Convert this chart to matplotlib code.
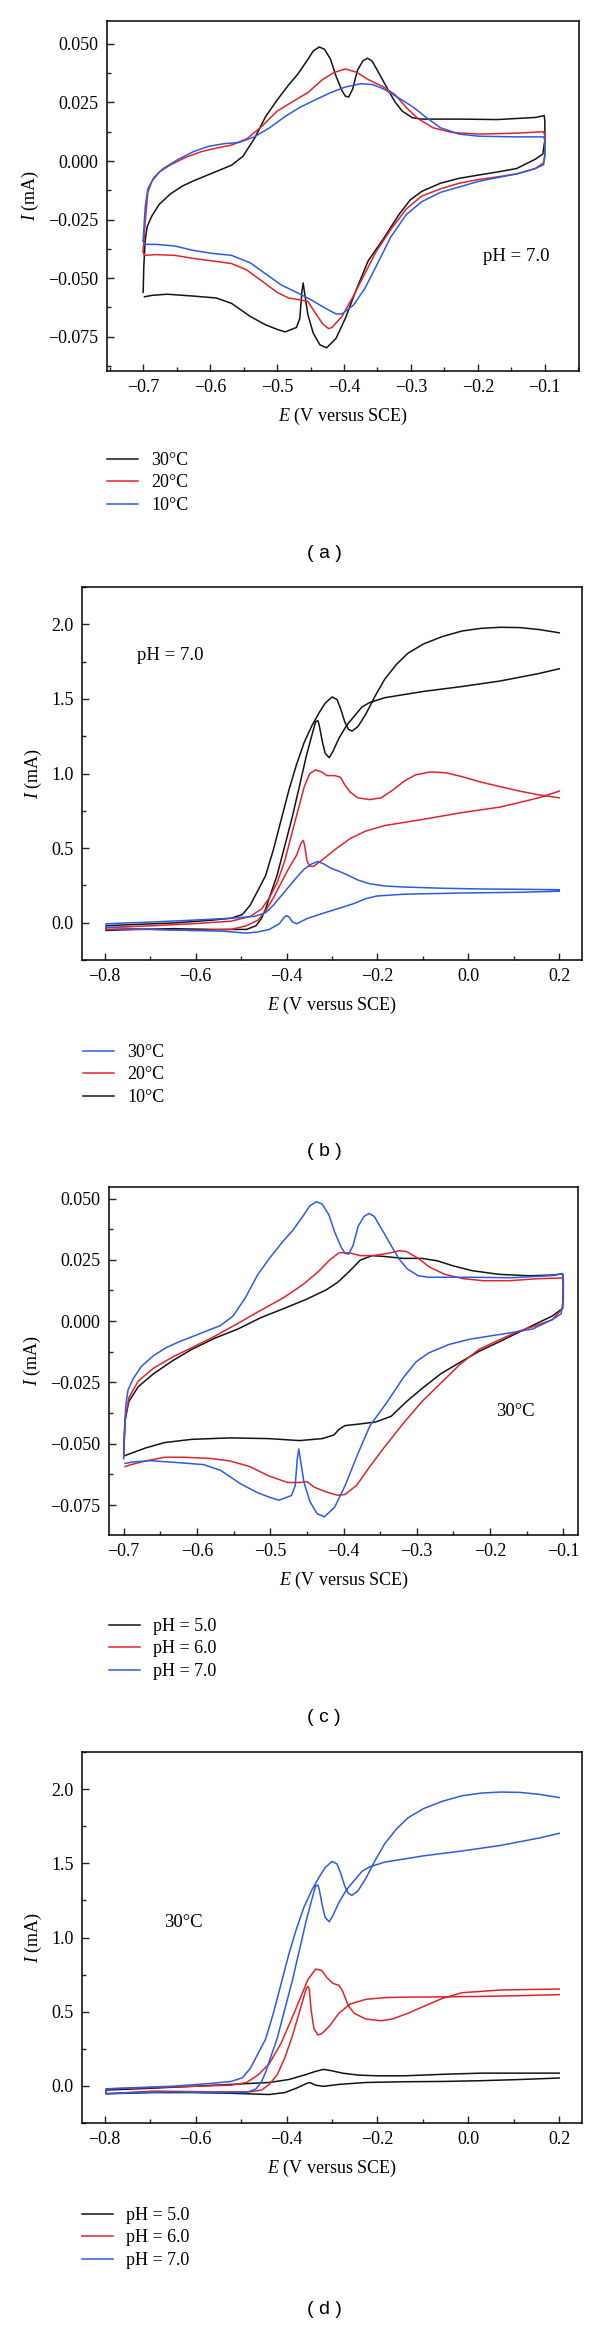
import matplotlib.pyplot as plt
from matplotlib.ticker import MultipleLocator, FuncFormatter

plt.rcParams['font.family'] = 'Liberation Serif'
plt.rcParams['mathtext.fontset'] = 'custom'
plt.rcParams['mathtext.rm'] = 'Liberation Serif'
plt.rcParams['mathtext.it'] = 'Liberation Serif:italic'

BLACK = '#141414'
RED = '#e0242c'
BLUE = '#2d5be3'

# ---- narrow-window CVs (-0.7 .. -0.1 V), pH 7.0, 30 C (also pH 7.0 in panel c)
cv_ph7_30_E = [-0.700, -0.699, -0.697, -0.694, -0.687, -0.676, -0.659, -0.642, -0.625, -0.602,
               -0.585, -0.568, -0.551, -0.534, -0.517, -0.500, -0.483, -0.469, -0.454, -0.446,
               -0.437, -0.429, -0.420, -0.412, -0.403, -0.398, -0.393, -0.387, -0.380, -0.372,
               -0.365, -0.358, -0.347, -0.335, -0.324, -0.313, -0.298, -0.284, -0.228, -0.171,
               -0.114, -0.101, -0.100, -0.100,
               -0.103, -0.114, -0.142, -0.171, -0.199, -0.228, -0.256, -0.284, -0.301, -0.318,
               -0.341, -0.364, -0.381, -0.398, -0.412, -0.426, -0.436, -0.446, -0.454, -0.459,
               -0.461, -0.463, -0.466, -0.471, -0.488, -0.500, -0.517, -0.540, -0.568, -0.591,
               -0.625, -0.664, -0.687, -0.698]
cv_ph7_30_I = [-0.0561, -0.0450, -0.0340, -0.0280, -0.0235, -0.0185, -0.0140, -0.0108, -0.0085, -0.0058,
               -0.0038, -0.0018, 0.0020, 0.0095, 0.0190, 0.0260, 0.0324, 0.0371, 0.0434, 0.0470,
               0.0487, 0.0477, 0.0434, 0.0363, 0.0300, 0.0277, 0.0273, 0.0308, 0.0387, 0.0427,
               0.0439, 0.0427, 0.0371, 0.0308, 0.0253, 0.0213, 0.0185, 0.0179, 0.0179, 0.0177,
               0.0186, 0.0194, 0.0170, 0.0090,
               0.0030, 0.0008, -0.0032, -0.0047, -0.0060, -0.0074, -0.0095, -0.0130, -0.0166, -0.0229,
               -0.0332, -0.0427, -0.0545, -0.0672, -0.0758, -0.0798, -0.0785, -0.0735, -0.0656, -0.0561,
               -0.0521, -0.0561, -0.0672, -0.0711, -0.0730, -0.0719, -0.0700, -0.0664, -0.0608, -0.0585,
               -0.0577, -0.0569, -0.0574, -0.0580]

# pH 7.0, 20 C
cv_ph7_20_E = [-0.700, -0.697, -0.693, -0.687, -0.676, -0.659, -0.636, -0.613, -0.591, -0.568,
               -0.545, -0.522, -0.500, -0.477, -0.454, -0.432, -0.415, -0.398, -0.381, -0.364,
               -0.341, -0.324, -0.307, -0.290, -0.267, -0.239, -0.199, -0.142, -0.102, -0.100,
               -0.100,
               -0.102, -0.114, -0.142, -0.171, -0.199, -0.228, -0.256, -0.284, -0.307, -0.330,
               -0.352, -0.369, -0.386, -0.403, -0.418, -0.423, -0.432, -0.443, -0.454, -0.466,
               -0.483, -0.500, -0.522, -0.545, -0.568, -0.596, -0.625, -0.653, -0.681, -0.698,
               -0.700]
cv_ph7_20_I = [-0.0387, -0.0261, -0.0134, -0.0087, -0.0047, -0.0016, 0.0016, 0.0040, 0.0055, 0.0068,
               0.0095, 0.0150, 0.0213, 0.0253, 0.0292, 0.0348, 0.0378, 0.0393, 0.0379, 0.0348,
               0.0316, 0.0284, 0.0229, 0.0182, 0.0142, 0.0122, 0.0115, 0.0119, 0.0125, 0.0110,
               0.0030,
               -0.0008, -0.0032, -0.0055, -0.0068, -0.0079, -0.0095, -0.0119, -0.0150, -0.0205, -0.0292,
               -0.0387, -0.0482, -0.0577, -0.0664, -0.0711, -0.0716, -0.0695, -0.0648, -0.0600, -0.0593,
               -0.0585, -0.0561, -0.0514, -0.0466, -0.0438, -0.0427, -0.0416, -0.0403, -0.0400, -0.0403,
               -0.0387]

# pH 7.0, 10 C
cv_ph7_10_E = [-0.700, -0.697, -0.693, -0.684, -0.670, -0.647, -0.625, -0.602, -0.579, -0.557,
               -0.534, -0.511, -0.488, -0.466, -0.443, -0.420, -0.398, -0.375, -0.358, -0.341,
               -0.318, -0.296, -0.279, -0.256, -0.228, -0.199, -0.142, -0.102, -0.100, -0.100,
               -0.102, -0.114, -0.142, -0.171, -0.199, -0.228, -0.256, -0.284, -0.307, -0.330,
               -0.352, -0.369, -0.386, -0.403, -0.412, -0.426, -0.449, -0.471, -0.494, -0.517,
               -0.540, -0.568, -0.596, -0.625, -0.653, -0.681, -0.698, -0.700]
cv_ph7_10_I = [-0.0340, -0.0198, -0.0119, -0.0071, -0.0032, 0.0008, 0.0040, 0.0063, 0.0074, 0.0079,
               0.0103, 0.0142, 0.0190, 0.0229, 0.0261, 0.0292, 0.0316, 0.0330, 0.0327, 0.0308,
               0.0269, 0.0229, 0.0190, 0.0142, 0.0115, 0.0106, 0.0103, 0.0103, 0.0090, 0.0020,
               -0.0016, -0.0032, -0.0055, -0.0071, -0.0087, -0.0111, -0.0134, -0.0174, -0.0229, -0.0324,
               -0.0450, -0.0545, -0.0616, -0.0653, -0.0653, -0.0632, -0.0593, -0.0561, -0.0529, -0.0482,
               -0.0435, -0.0403, -0.0395, -0.0382, -0.0363, -0.0356, -0.0356, -0.0340]

# 30 C, pH 5.0
cv_ph5_30_E = [-0.700, -0.698, -0.693, -0.680, -0.659, -0.633, -0.607, -0.576, -0.544, -0.513,
               -0.481, -0.450, -0.424, -0.408, -0.392, -0.377, -0.361, -0.345, -0.319, -0.293,
               -0.272, -0.251, -0.225, -0.188, -0.147, -0.115, -0.101, -0.100, -0.101,
               -0.115, -0.136, -0.162, -0.188, -0.215, -0.241, -0.267, -0.293, -0.314, -0.335,
               -0.356, -0.377, -0.398, -0.406, -0.413, -0.429, -0.460, -0.502, -0.555, -0.607,
               -0.644, -0.670, -0.691, -0.698]
cv_ph5_30_I = [-0.0540, -0.0404, -0.0328, -0.0267, -0.0214, -0.0161, -0.0115, -0.0070, -0.0032, 0.0014,
               0.0052, 0.0090, 0.0127, 0.0158, 0.0203, 0.0249, 0.0267, 0.0264, 0.0256, 0.0256,
               0.0246, 0.0226, 0.0206, 0.0191, 0.0185, 0.0188, 0.0193, 0.0150, 0.0052,
               0.0021, -0.0009, -0.0047, -0.0085, -0.0123, -0.0168, -0.0214, -0.0275, -0.0328, -0.0388,
               -0.0411, -0.0419, -0.0426, -0.0441, -0.0464, -0.0479, -0.0487, -0.0479, -0.0476, -0.0482,
               -0.0495, -0.0517, -0.0540, -0.0548]

# 30 C, pH 6.0
cv_ph6_30_E = [-0.700, -0.698, -0.693, -0.680, -0.659, -0.633, -0.607, -0.576, -0.544, -0.513,
               -0.481, -0.455, -0.434, -0.419, -0.406, -0.392, -0.377, -0.361, -0.340, -0.324,
               -0.314, -0.298, -0.283, -0.262, -0.236, -0.209, -0.173, -0.136, -0.101, -0.100,
               -0.101,
               -0.115, -0.136, -0.162, -0.188, -0.215, -0.241, -0.267, -0.293, -0.319, -0.345,
               -0.366, -0.382, -0.398, -0.408, -0.424, -0.440, -0.450, -0.460, -0.476, -0.502,
               -0.528, -0.555, -0.581, -0.617, -0.644, -0.670, -0.691, -0.698]
cv_ph6_30_I = [-0.0555, -0.0404, -0.0313, -0.0244, -0.0191, -0.0146, -0.0108, -0.0062, -0.0009, 0.0044,
               0.0097, 0.0150, 0.0203, 0.0249, 0.0279, 0.0279, 0.0267, 0.0267, 0.0276, 0.0287,
               0.0284, 0.0256, 0.0221, 0.0191, 0.0173, 0.0165, 0.0165, 0.0173, 0.0176, 0.0140,
               0.0052,
               0.0006, -0.0017, -0.0042, -0.0077, -0.0115, -0.0176, -0.0252, -0.0328, -0.0419, -0.0517,
               -0.0601, -0.0669, -0.0707, -0.0710, -0.0696, -0.0677, -0.0654, -0.0658, -0.0658, -0.0631,
               -0.0593, -0.0570, -0.0560, -0.0555, -0.0555, -0.0570, -0.0586, -0.0593]

# ---- wide-window scans (-0.8 .. 0.2 V)
# largest response: 10 C curve of panel b, pH 7.0 curve of panel d
wide_big_E = [0.200, 0.155, 0.070, -0.014, -0.099, -0.184, -0.217, -0.234, -0.251, -0.268,
              -0.285, -0.298, -0.306, -0.315, -0.321, -0.328, -0.331, -0.336, -0.344, -0.357,
              -0.370, -0.387, -0.404, -0.421, -0.438, -0.446, -0.455, -0.467, -0.488, -0.565,
              -0.649, -0.734, -0.797,
              -0.797, -0.734, -0.649, -0.565, -0.522, -0.497, -0.480, -0.463, -0.446, -0.429,
              -0.412, -0.395, -0.378, -0.361, -0.344, -0.328, -0.315, -0.300, -0.289, -0.281,
              -0.272, -0.264, -0.256, -0.243, -0.226, -0.205, -0.184, -0.158, -0.133, -0.099,
              -0.057, -0.014, 0.028, 0.070, 0.113, 0.155, 0.200]
wide_big_I = [1.702, 1.670, 1.620, 1.583, 1.550, 1.508, 1.476, 1.446, 1.384, 1.322,
              1.235, 1.148, 1.106, 1.135, 1.210, 1.322, 1.354, 1.347, 1.260, 1.111,
              0.937, 0.713, 0.514, 0.316, 0.166, 0.092, 0.030, -0.020, -0.045, -0.045,
              -0.040, -0.045, -0.052,
              -0.020, -0.012, -0.002, 0.017, 0.030, 0.055, 0.117, 0.216, 0.316, 0.489,
              0.688, 0.887, 1.061, 1.210, 1.322, 1.409, 1.471, 1.513, 1.496, 1.434,
              1.347, 1.297, 1.284, 1.314, 1.396, 1.520, 1.632, 1.732, 1.806, 1.868,
              1.918, 1.955, 1.973, 1.980, 1.978, 1.965, 1.943]

# panel b, 20 C
wide_20_E = [0.200, 0.155, 0.070, -0.014, -0.099, -0.184, -0.226, -0.260, -0.294, -0.319,
             -0.340, -0.349, -0.355, -0.360, -0.363, -0.368, -0.378, -0.395, -0.412, -0.429,
             -0.446, -0.463, -0.488, -0.522, -0.607, -0.692, -0.797,
             -0.797, -0.692, -0.607, -0.522, -0.480, -0.455, -0.438, -0.421, -0.404, -0.387,
             -0.374, -0.361, -0.349, -0.336, -0.323, -0.311, -0.294, -0.281, -0.272, -0.260,
             -0.243, -0.217, -0.192, -0.167, -0.141, -0.116, -0.082, -0.048, -0.014, 0.028,
             0.070, 0.113, 0.155, 0.200]
wide_20_I = [0.882, 0.837, 0.775, 0.738, 0.693, 0.651, 0.614, 0.564, 0.489, 0.427,
             0.378, 0.378, 0.415, 0.514, 0.552, 0.534, 0.452, 0.365, 0.266, 0.166,
             0.080, 0.017, -0.020, -0.045, -0.052, -0.045, -0.045,
             -0.032, -0.020, -0.007, 0.010, 0.042, 0.092, 0.166, 0.266, 0.415, 0.614,
             0.763, 0.912, 0.999, 1.024, 1.011, 0.986, 0.986, 0.974, 0.924, 0.875,
             0.837, 0.825, 0.837, 0.887, 0.949, 0.991, 1.011, 1.004, 0.979, 0.942,
             0.912, 0.882, 0.857, 0.837]

# panel b, 30 C
wide_30_E = [0.200, 0.113, -0.014, -0.141, -0.201, -0.226, -0.251, -0.277, -0.302, -0.328,
             -0.353, -0.370, -0.378, -0.387, -0.394, -0.400, -0.405, -0.416, -0.438, -0.463,
             -0.488, -0.539, -0.607, -0.692, -0.797,
             -0.797, -0.692, -0.607, -0.522, -0.471, -0.446, -0.429, -0.412, -0.395, -0.378,
             -0.361, -0.344, -0.331, -0.319, -0.302, -0.285, -0.268, -0.243, -0.217, -0.184,
             -0.141, -0.057, 0.028, 0.113, 0.200]
wide_30_I = [0.211, 0.204, 0.199, 0.191, 0.179, 0.161, 0.129, 0.104, 0.080, 0.055,
             0.030, 0.005, -0.007, 0.005, 0.037, 0.047, 0.037, -0.007, -0.045, -0.062,
             -0.070, -0.057, -0.052, -0.045, -0.032,
             -0.007, 0.005, 0.017, 0.030, 0.042, 0.067, 0.117, 0.179, 0.241, 0.303,
             0.360, 0.395, 0.410, 0.395, 0.365, 0.345, 0.323, 0.286, 0.261, 0.246,
             0.239, 0.231, 0.226, 0.224, 0.221]

# panel d, pH 6.0
wide_ph6_E = [0.200, 0.113, 0.028, -0.057, -0.141, -0.184, -0.226, -0.260, -0.285, -0.306,
              -0.323, -0.331, -0.340, -0.346, -0.350, -0.353, -0.357, -0.370, -0.387, -0.404,
              -0.421, -0.438, -0.455, -0.480, -0.565, -0.692, -0.797,
              -0.797, -0.692, -0.607, -0.522, -0.488, -0.463, -0.438, -0.412, -0.387, -0.370,
              -0.353, -0.336, -0.323, -0.311, -0.298, -0.285, -0.277, -0.264, -0.251, -0.226,
              -0.192, -0.167, -0.133, -0.099, -0.057, -0.014, 0.070, 0.200]
wide_ph6_I = [0.615, 0.608, 0.603, 0.600, 0.598, 0.595, 0.583, 0.552, 0.489, 0.401,
              0.351, 0.343, 0.388, 0.515, 0.653, 0.671, 0.653, 0.515, 0.338, 0.187,
              0.073, 0.010, -0.028, -0.040, -0.040, -0.035, -0.053,
              -0.020, -0.010, -0.003, 0.005, 0.023, 0.073, 0.149, 0.288, 0.464, 0.590,
              0.716, 0.787, 0.779, 0.729, 0.691, 0.678, 0.641, 0.540, 0.489, 0.451,
              0.439, 0.451, 0.489, 0.535, 0.590, 0.628, 0.646, 0.653]

# panel d, pH 5.0
wide_ph5_E = [0.200, 0.113, 0.028, -0.057, -0.141, -0.226, -0.285, -0.319, -0.336, -0.349,
              -0.357, -0.378, -0.404, -0.438, -0.522, -0.607, -0.692, -0.797,
              -0.797, -0.692, -0.607, -0.522, -0.438, -0.395, -0.361, -0.336, -0.319, -0.302,
              -0.277, -0.243, -0.201, -0.141, -0.057, 0.028, 0.113, 0.200]
wide_ph5_I = [0.053, 0.043, 0.035, 0.030, 0.028, 0.023, 0.010, -0.003, 0.005, 0.023,
              0.015, -0.015, -0.045, -0.058, -0.050, -0.045, -0.045, -0.053,
              -0.028, -0.015, -0.003, 0.010, 0.023, 0.043, 0.073, 0.098, 0.111, 0.103,
              0.086, 0.073, 0.068, 0.068, 0.078, 0.086, 0.086, 0.086]

temp_labels = ['30\u00b0C', '20\u00b0C', '10\u00b0C']
ph_labels = ['pH = 5.0', 'pH = 6.0', 'pH = 7.0']

W, H = 600, 2326
fig = plt.figure(figsize=(W / 100, H / 100), dpi=100)


def box(x0, y0, x1, y1):
    return [x0 / W, 1 - y1 / H, (x1 - x0) / W, (y1 - y0) / H]


def fmt(decimals):
    def f(v, pos):
        if abs(v) < 1e-9:
            v = 0.0
        return ('%.*f' % (decimals, v)).replace('-', '\u2212')
    return FuncFormatter(f)


def setup(ax, xlim, ylim, xstep, ystep, ydec):
    ax.set_xlim(xlim)
    ax.set_ylim(ylim)
    ax.xaxis.set_major_locator(MultipleLocator(xstep))
    ax.xaxis.set_minor_locator(MultipleLocator(xstep / 2))
    ax.yaxis.set_major_locator(MultipleLocator(ystep))
    ax.yaxis.set_minor_locator(MultipleLocator(ystep / 2))
    ax.xaxis.set_major_formatter(fmt(1))
    ax.yaxis.set_major_formatter(fmt(ydec))
    ax.tick_params(which='both', direction='in', top=False, right=False,
                   labelsize=13, pad=6, width=1.0, color='#222222')
    ax.tick_params(which='major', length=5)
    ax.tick_params(which='minor', length=3)
    for s in ax.spines.values():
        s.set_linewidth(1.1)
    ax.set_xlabel(r'$E$ (V versus SCE)', fontsize=13, labelpad=7)
    ax.set_ylabel(r'$I$ (mA)', fontsize=13, labelpad=5)


def legend(ax, handles, labels, x, y):
    ax.legend(handles, labels, loc='upper left', bbox_to_anchor=(x / W, 1 - y / H),
              bbox_transform=fig.transFigure, frameon=False, fontsize=13,
              handlelength=1.7, handletextpad=0.75, labelspacing=0.3,
              borderpad=0, borderaxespad=0)


def panel_label(text, y):
    fig.text(324 / W, 1 - y / H, text, ha='center', va='center',
             family='Liberation Sans', fontsize=14)


lw = 1.1

# (a)
ax = fig.add_axes(box(107, 21, 579, 371))
h1, = ax.plot(cv_ph7_30_E, cv_ph7_30_I, color=BLACK, lw=lw)
h2, = ax.plot(cv_ph7_20_E, cv_ph7_20_I, color=RED, lw=lw)
h3, = ax.plot(cv_ph7_10_E, cv_ph7_10_I, color=BLUE, lw=lw)
setup(ax, (-0.754, -0.049), (-0.0897, 0.0598), 0.1, 0.025, 3)
ax.text(-0.142, -0.0406, 'pH = 7.0', ha='center', va='center', fontsize=13.5)
legend(ax, [h1, h2, h3], temp_labels, 107, 452)
panel_label('( a )', 554)

# (b)
ax = fig.add_axes(box(82, 587, 582, 960))
h3, = ax.plot(wide_big_E, wide_big_I, color=BLACK, lw=lw)
h2, = ax.plot(wide_20_E, wide_20_I, color=RED, lw=lw)
h1, = ax.plot(wide_30_E, wide_30_I, color=BLUE, lw=lw)
setup(ax, (-0.85, 0.25), (-0.25, 2.25), 0.2, 0.5, 1)
ax.text(-0.656, 1.79, 'pH = 7.0', ha='center', va='center', fontsize=13.5)
legend(ax, [h1, h2, h3], temp_labels, 83, 1044)
panel_label('( b )', 1151)

# (c)
ax = fig.add_axes(box(109, 1187, 578, 1535))
h1, = ax.plot(cv_ph5_30_E, cv_ph5_30_I, color=BLACK, lw=lw)
h2, = ax.plot(cv_ph6_30_E, cv_ph6_30_I, color=RED, lw=lw)
h3, = ax.plot(cv_ph7_30_E, cv_ph7_30_I, color=BLUE, lw=lw)
setup(ax, (-0.72, -0.08), (-0.0872, 0.0547), 0.1, 0.025, 3)
ax.text(-0.166, -0.037, '30\u00b0C', ha='center', va='center', fontsize=13.5)
legend(ax, [h1, h2, h3], ph_labels, 109, 1618)
panel_label('( c )', 1718)

# (d)
ax = fig.add_axes(box(82, 1752, 582, 2123))
h1, = ax.plot(wide_ph5_E, wide_ph5_I, color=BLACK, lw=lw)
h2, = ax.plot(wide_ph6_E, wide_ph6_I, color=RED, lw=lw)
h3, = ax.plot(wide_big_E, wide_big_I, color=BLUE, lw=lw)
setup(ax, (-0.85, 0.25), (-0.25, 2.25), 0.2, 0.5, 1)
ax.text(-0.626, 1.10, '30\u00b0C', ha='center', va='center', fontsize=13.5)
legend(ax, [h1, h2, h3], ph_labels, 82, 2207)
panel_label('( d )', 2309)

fig.savefig('out.png', dpi=100)
